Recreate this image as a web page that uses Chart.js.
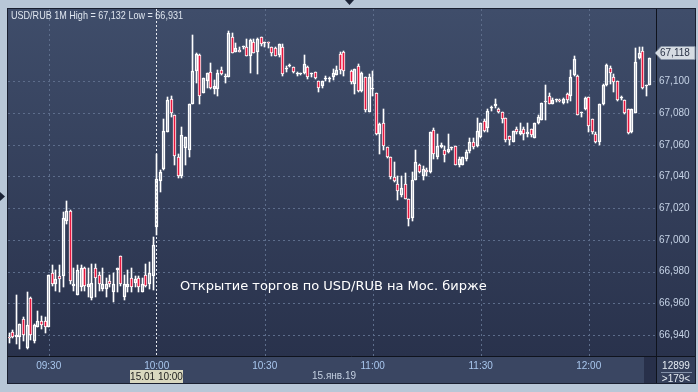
<!DOCTYPE html>
<html lang="ru">
<head>
  <meta charset="utf-8">
  <title>USD/RUB 1M</title>
  <style>
    html, body { margin: 0; padding: 0; background: #b8c7d7; }
    #chart { display: block; }
  </style>
</head>
<body>
  <canvas id="chart" width="698" height="392"></canvas>
  <script src="https://cdn.jsdelivr.net/npm/chart.js"></script>
  <script>
    // 1-minute bars, first one at 09:19, one per minute (null = no trades)
    var firstBar = '09:19';
    var opens = [
      66.939, 66.942, 66.939, 66.939, 66.950, 66.932, 66.963, 66.936, 66.945, 66.949,
      66.949, 66.945, 66.979, 66.972, 66.977, 66.977, 67.012, 67.018, 66.971, 66.965,
      66.970, 66.982, 66.970, 66.963, 66.982, 66.978, 66.969, 66.969, 66.974, 66.967,
      66.981, 66.990, 66.964, 66.970, 66.976, 66.973, 66.976, 66.967, 66.978, 66.972,
      66.9775, 67.008, 67.037, 67.045, 67.068, 67.089, 67.079, 67.052, 67.0405, 67.058,
      67.057, 67.086, 67.1065, 67.1165, 67.093, 67.100, 67.106, 67.095, 67.095, 67.107,
      67.103, 67.103, 67.128, 67.1185, 67.120, 67.122, 67.1215, 67.116, 67.125, 67.1185,
      67.128, 67.1245, 67.1245, 67.122, 67.121, 67.1165, 67.1215, 67.108, 67.110, 67.109,
      67.1045, 67.1045, 67.1055, 67.109, 67.1045, 67.106, 67.100, 67.097, 67.1015, 67.1015,
      67.1025, 67.104, 67.117, 67.1185, null, 67.1065, 67.0985, 67.110, 67.094, 67.103,
      67.081, 67.095, 67.093, 67.0665, 67.074, 67.0585, 67.052, 67.0395, 67.0355, 67.0285,
      67.0355, 67.0255, 67.0135, 67.038, 67.0475, 67.0405, 67.044, 67.043, 67.0695, 67.052,
      67.0585, 67.057, 67.0555, 67.058, 67.0595, 67.0475, 67.0475, 67.051, 67.056, 67.0615,
      67.0595, 67.065, 67.075, 67.0705, 67.083, 67.0845, 67.0825, 67.0805, 67.077, 67.0655,
      67.062, 67.070, 67.067, 67.070, 67.0665, 67.070, 67.064, 67.0735, 67.0755, 67.087,
      67.0905, 67.086, 67.088, 67.0885, 67.0865, 67.092, 67.091, 67.104, 67.1035, 67.080,
      67.0825, 67.090, 67.076, 67.0665, 67.0615, 67.0855, 67.0975, 67.1085, 67.1025, 67.100,
      67.0895, 67.088, 67.0825, 67.068, 67.080, 67.1145, 67.1195, 67.097, 67.098
    ];
    var highs = [
      66.941, 66.943, 66.965, 66.947, 66.951, 66.967, 66.964, 66.947, 66.955, 66.952,
      66.951, 66.978, 66.984, 66.981, 66.984, 67.0175, 67.0245, 67.019, 66.982, 66.984,
      66.984, 66.983, 66.982, 66.985, 66.985, 66.980, 66.982, 66.976, 66.978, 66.979,
      66.982, 66.990, 66.978, 66.981, 66.982, 66.977, 66.977, 66.976, 66.985, 66.986,
      67.002, 67.0545, 67.044, 67.076, 67.090, 67.0905, 67.079, 67.054, 67.071, 67.065,
      67.086, 67.129, 67.118, 67.1175, 67.102, 67.105, 67.1115, 67.101, 67.107, 67.109,
      67.1045, 67.132, 67.1305, 67.1245, 67.1215, 67.1225, 67.127, 67.1265, 67.127, 67.1275,
      67.128, 67.125, 67.125, 67.122, 67.1215, 67.1235, 67.1235, 67.110, 67.111, 67.109,
      67.106, 67.1055, 67.1165, 67.1095, 67.1055, 67.106, 67.1005, 67.1005, 67.1035, 67.1025,
      67.108, 67.1095, 67.1185, 67.1195, null, 67.107, 67.108, 67.111, 67.106, 67.103,
      67.1045, 67.1065, 67.093, 67.074, 67.0825, 67.0585, 67.052, 67.049, 67.0405, 67.0405,
      67.0425, 67.0255, 67.043, 67.057, 67.048, 67.0465, 67.0455, 67.068, 67.0705, 67.067,
      67.061, 67.0595, 67.067, 67.0585, 67.0595, 67.0525, 67.0525, 67.0565, 67.0645, 67.0645,
      67.077, 67.0735, 67.076, 67.0825, 67.0845, 67.089, 67.083, 67.0805, 67.077, 67.0655,
      67.069, 67.071, 67.0735, 67.071, 67.0735, 67.070, 67.0735, 67.0785, 67.0865, 67.098,
      67.0925, 67.0895, 67.089, 67.089, 67.0895, 67.093, 67.107, 67.116, 67.104, 67.081,
      67.090, 67.090, 67.076, 67.068, 67.0855, 67.0985, 67.111, 67.110, 67.1045, 67.100,
      67.091, 67.088, 67.0825, 67.0825, 67.121, 67.1215, 67.122, 67.098, 67.1145
    ];
    var lows = [
      66.935, 66.938, 66.934, 66.931, 66.936, 66.931, 66.937, 66.935, 66.945, 66.944,
      66.941, 66.945, 66.971, 66.968, 66.967, 66.970, 67.010, 66.972, 66.968, 66.965,
      66.968, 66.968, 66.964, 66.962, 66.964, 66.968, 66.968, 66.964, 66.970, 66.961,
      66.967, 66.971, 66.962, 66.967, 66.967, 66.970, 66.967, 66.967, 66.970, 66.969,
      66.9685, 67.003, 67.030, 67.044, 67.068, 67.0775, 67.0475, 67.039, 67.039, 67.0475,
      67.052, 67.086, 67.099, 67.086, 67.0925, 67.096, 67.095, 67.092, 67.091, 67.104,
      67.099, 67.103, 67.118, 67.1185, 67.1185, 67.1205, 67.116, 67.1055, 67.118, 67.1045,
      67.1225, 67.1215, 67.121, 67.116, 67.116, 67.1155, 67.1035, 67.106, 67.109, 67.1055,
      67.1035, 67.104, 67.1045, 67.1015, 67.103, 67.1015, 67.0935, 67.096, 67.100, 67.0995,
      67.101, 67.104, 67.1045, 67.1035, null, 67.0985, 67.092, 67.0935, 67.0935, 67.0805,
      67.0805, 67.091, 67.066, 67.054, 67.0565, 67.0515, 67.0385, 67.0365, 67.025, 67.027,
      67.0255, 67.009, 67.012, 67.0375, 67.042, 67.038, 67.040, 67.0425, 67.051, 67.051,
      67.058, 67.049, 67.055, 67.057, 67.047, 67.046, 67.047, 67.050, 67.055, 67.0575,
      67.0585, 67.064, 67.068, 67.068, 67.0815, 67.083, 67.080, 67.0735, 67.062, 67.060,
      67.0615, 67.067, 67.066, 67.063, 67.065, 67.065, 67.064, 67.073, 67.0755, 67.0755,
      67.0855, 67.0855, 67.087, 67.087, 67.086, 67.0865, 67.0875, 67.1035, 67.0785, 67.0775,
      67.082, 67.068, 67.0665, 67.061, 67.060, 67.085, 67.097, 67.0985, 67.0935, 67.0875,
      67.088, 67.0795, 67.067, 67.0675, 67.080, 67.114, 67.095, 67.091, 67.0975
    ];
    var closes = [
      66.938, 66.939, 66.940, 66.947, 66.940, 66.946, 66.940, 66.946, 66.949, 66.946,
      66.945, 66.978, 66.972, 66.975, 66.975, 67.014, 67.018, 66.974, 66.972, 66.981,
      66.982, 66.971, 66.972, 66.973, 66.976, 66.972, 66.972, 66.972, 66.972, 66.972,
      66.982, 66.972, 66.972, 66.972, 66.970, 66.975, 66.970, 66.972, 66.971, 66.979,
      66.997, 67.0385, 67.043, 67.069, 67.088, 67.080, 67.053, 67.0405, 67.066, 67.065,
      67.086, 67.1065, 67.1175, 67.091, 67.102, 67.105, 67.096, 67.097, 67.105, 67.1045,
      67.1035, 67.1305, 67.118, 67.121, 67.1185, 67.1222, 67.116, 67.126, 67.118, 67.127,
      67.1235, 67.1245, 67.124, 67.118, 67.116, 67.1235, 67.1045, 67.108, 67.110, 67.106,
      67.1045, 67.105, 67.111, 67.1025, 67.1045, 67.102, 67.096, 67.1005, 67.1015, 67.1015,
      67.105, 67.107, 67.107, 67.1065, null, 67.0995, 67.108, 67.094, 67.105, 67.082,
      67.103, 67.095, 67.0665, 67.073, 67.059, 67.052, 67.0395, 67.037, 67.031, 67.033,
      67.026, 67.013, 67.0375, 67.049, 67.043, 67.045, 67.043, 67.068, 67.0545, 67.0595,
      67.060, 67.0535, 67.0575, 67.058, 67.0475, 67.051, 67.052, 67.0555, 67.0615, 67.0585,
      67.069, 67.0735, 67.069, 67.0815, 67.083, 67.086, 67.0805, 67.076, 67.063, 67.063,
      67.0685, 67.068, 67.069, 67.067, 67.068, 67.066, 67.0735, 67.0775, 67.0865, 67.0875,
      67.086, 67.0885, 67.088, 67.0875, 67.089, 67.088, 67.1025, 67.1143, 67.079, 67.0805,
      67.0895, 67.072, 67.068, 67.062, 67.0855, 67.098, 67.1105, 67.1055, 67.0995, 67.088,
      67.0895, 67.080, 67.0675, 67.0825, 67.112, 67.118, 67.096, 67.098, 67.1145
    ];

    var priceTicks = [66.94, 66.96, 66.98, 67.00, 67.02, 67.04, 67.06, 67.08, 67.10];
    var timeTicks = ['09:30', '10:00', '10:30', '11:00', '11:30', '12:00'];
    var sessionOpen = '10:00';
    var lastPrice = 67.118;

    var titleText = 'USD/RUB 1M High = 67,132 Low = 66,931';
    var noteText = 'Открытие торгов по USD/RUB на Мос. бирже';
    var cursorText = '15.01 10:00';
    var dateText = '15.янв.19';
    var volumeText = '12899';
    var barsText = '>179<';

    function toMin(t) {
      var p = t.split(':');
      return parseInt(p[0], 10) * 60 + parseInt(p[1], 10);
    }
    function fmtTime(v) {
      var h = Math.floor(v / 60), m = Math.round(v % 60);
      return (h < 10 ? '0' : '') + h + ':' + (m < 10 ? '0' : '') + m;
    }
    function fmtPrice(v) {
      return v.toFixed(3).replace('.', ',');
    }

    var start = toMin(firstBar);
    var bodies = [], upperWicks = [], lowerWicks = [], bodyColors = [];
    opens.forEach(function (o, i) {
      if (o === null) return;
      var c = closes[i];
      var top = Math.max(o, c), bot = Math.min(o, c);
      bodies.push({ x: start + i, y: [bot, top] });
      upperWicks.push({ x: start + i, y: [top, highs[i]] });
      lowerWicks.push({ x: start + i, y: [lows[i], bot] });
      bodyColors.push(c < o ? '#e8173f' : 'rgba(0,0,0,0)');
    });

    // snap bars on whole pixels so 1px wicks stay sharp
    var snapPlugin = {
      id: 'snap',
      afterDatasetsUpdate: function (chart) {
        chart.data.datasets.forEach(function (ds, di) {
          chart.getDatasetMeta(di).data.forEach(function (el) {
            el.x = Math.floor(el.x) + 0.5;
            el.y = Math.round(el.y);
            el.base = Math.round(el.base);
            if (di === 0 && Math.abs(el.y - el.base) < 1) el.base = el.y + 1;
          });
        });
      }
    };

    var framePlugin = {
      id: 'frame',
      beforeDraw: function (chart) {
        var ctx = chart.ctx, a = chart.chartArea;
        var xs = chart.scales.x, ys = chart.scales.y;
        var right = 695, bottom = 383;
        ctx.save();
        ctx.fillStyle = '#b8c7d7';
        ctx.fillRect(0, 0, chart.width, chart.height);

        var g = ctx.createLinearGradient(0, a.top, 0, a.bottom);
        g.addColorStop(0, '#3f4d6a');
        g.addColorStop(1, '#29324c');
        ctx.fillStyle = g;
        ctx.fillRect(a.left, a.top, right - a.left, a.bottom - a.top);
        ctx.fillStyle = '#3a4662';
        ctx.fillRect(a.left, a.bottom, right - a.left, bottom - a.bottom);
        ctx.fillStyle = '#343f5a';
        ctx.fillRect(a.right, a.bottom, right - a.right, bottom - a.bottom);
        // scroll thumb
        ctx.fillStyle = '#28304a';
        ctx.fillRect(a.right - 12, a.bottom + 1, 12, bottom - a.bottom - 1);

        // dashed grid
        ctx.lineWidth = 1;
        ctx.strokeStyle = '#5d6d8b';
        ctx.setLineDash([2, 3]);
        ctx.beginPath();
        priceTicks.forEach(function (p) {
          var y = Math.round(ys.getPixelForValue(p)) + 0.5;
          ctx.moveTo(a.left, y);
          ctx.lineTo(a.right, y);
        });
        timeTicks.forEach(function (t) {
          if (t === sessionOpen) return;
          var x = Math.round(xs.getPixelForValue(toMin(t))) + 0.5;
          ctx.moveTo(x, a.top);
          ctx.lineTo(x, a.bottom);
        });
        ctx.stroke();

        // session open marker
        var sx = Math.floor(xs.getPixelForValue(toMin(sessionOpen))) + 0.5;
        ctx.strokeStyle = '#e6e9ef';
        ctx.setLineDash([2, 2]);
        ctx.beginPath();
        ctx.moveTo(sx, a.top);
        ctx.lineTo(sx, a.bottom);
        ctx.stroke();

        // dividers and border
        ctx.setLineDash([]);
        ctx.strokeStyle = '#0f131d';
        ctx.beginPath();
        ctx.moveTo(a.right + 0.5, a.top);
        ctx.lineTo(a.right + 0.5, bottom);
        ctx.moveTo(a.left, a.bottom + 0.5);
        ctx.lineTo(right, a.bottom + 0.5);
        ctx.stroke();
        ctx.strokeStyle = '#1a2030';
        ctx.strokeRect(a.left - 0.5, a.top - 0.5, right - a.left + 1, bottom - a.top + 1);
        ctx.restore();
      },
      afterDraw: function (chart) {
        var ctx = chart.ctx, a = chart.chartArea;
        var xs = chart.scales.x, ys = chart.scales.y;
        ctx.save();
        ctx.textBaseline = 'middle';

        ctx.fillStyle = '#dfe6ef';
        ctx.font = '11px "Liberation Sans", Arial, sans-serif';
        ctx.textAlign = 'left';
        ctx.fillText(titleText, a.left + 3, a.top + 7, 172);

        ctx.fillStyle = '#ffffff';
        ctx.font = '13px "DejaVu Sans", sans-serif';
        ctx.fillText(noteText, 180, 287, 310);

        // cursor time badge
        var sx = Math.floor(xs.getPixelForValue(toMin(sessionOpen))) + 0.5;
        ctx.fillStyle = '#d9d8bf';
        ctx.fillRect(Math.round(sx - 27), 370, 53, 13);
        ctx.fillStyle = '#1d1d1d';
        ctx.font = '10px "Liberation Sans", Arial, sans-serif';
        ctx.textAlign = 'center';
        ctx.fillText(cursorText, sx, 377);

        ctx.fillStyle = '#c3cfe0';
        ctx.font = '10px "Liberation Sans", Arial, sans-serif';
        ctx.fillText(dateText, 334, 376);

        // bottom right cell
        ctx.fillStyle = '#e6ecf3';
        ctx.font = '10px "Liberation Sans", Arial, sans-serif';
        ctx.fillText(volumeText, 676, 366);
        ctx.fillText(barsText, 676, 379);
        ctx.strokeStyle = '#8290a8';
        ctx.beginPath();
        ctx.moveTo(661, 372.5);
        ctx.lineTo(692, 372.5);
        ctx.stroke();

        // last price marker
        var py = Math.round(ys.getPixelForValue(lastPrice));
        ctx.fillStyle = '#d6dce3';
        ctx.strokeStyle = '#8793a6';
        ctx.beginPath();
        ctx.moveTo(a.right - 1, py);
        ctx.lineTo(a.right + 5, py - 6.5);
        ctx.lineTo(695, py - 6.5);
        ctx.lineTo(695, py + 6.5);
        ctx.lineTo(a.right + 5, py + 6.5);
        ctx.closePath();
        ctx.fill();
        ctx.stroke();
        ctx.fillStyle = '#2a3347';
        ctx.textAlign = 'left';
        ctx.fillText(fmtPrice(lastPrice), a.right + 4, py + 0.5);

        // frame arrows
        ctx.fillStyle = '#1c2437';
        ctx.beginPath();
        ctx.moveTo(345, 0); ctx.lineTo(354, 0); ctx.lineTo(349.5, 5);
        ctx.closePath(); ctx.fill();
        ctx.beginPath();
        ctx.moveTo(0, 192); ctx.lineTo(0, 201); ctx.lineTo(5, 196.5);
        ctx.closePath(); ctx.fill();
        ctx.restore();
      }
    };

    var ctx = document.getElementById('chart').getContext('2d');
    var chart = new Chart(ctx, {
      type: 'bar',
      data: {
        datasets: [
          {
            data: bodies,
            backgroundColor: bodyColors,
            borderColor: '#ffffff',
            borderWidth: 1,
            borderSkipped: false,
            barThickness: 3,
            minBarLength: 1,
            grouped: false,
            order: 0
          },
          {
            data: upperWicks,
            backgroundColor: '#ffffff',
            borderWidth: 0,
            barThickness: 1,
            grouped: false,
            order: 1
          },
          {
            data: lowerWicks,
            backgroundColor: '#ffffff',
            borderWidth: 0,
            barThickness: 1,
            grouped: false,
            order: 1
          }
        ]
      },
      options: {
        responsive: false,
        animation: false,
        layout: { padding: { left: 8, top: 8, right: 3, bottom: 9 } },
        plugins: {
          legend: { display: false },
          tooltip: { enabled: false }
        },
        scales: {
          x: {
            type: 'linear',
            offset: false,
            min: start - 0.3,
            max: start + 179.7,
            grid: { display: false, drawTicks: false, tickLength: 0 },
            border: { display: false },
            afterBuildTicks: function (scale) {
              scale.ticks = timeTicks.map(function (t) { return { value: toMin(t) }; });
            },
            afterFit: function (scale) { scale.height = 27; },
            ticks: {
              autoSkip: false,
              maxRotation: 0,
              padding: 4,
              color: '#a9c7ee',
              font: { family: 'Liberation Sans', size: 10 },
              callback: function (v) { return fmtTime(v); }
            }
          },
          y: {
            position: 'right',
            min: 66.9267,
            max: 67.1457,
            grid: { display: false, drawTicks: false, tickLength: 0 },
            border: { display: false },
            afterBuildTicks: function (scale) {
              scale.ticks = priceTicks.map(function (p) { return { value: p }; });
            },
            afterFit: function (scale) { scale.width = 39; },
            ticks: {
              padding: 3,
              color: '#c6d3e6',
              font: { family: 'Liberation Sans', size: 10 },
              callback: function (v) { return fmtPrice(v); }
            }
          }
        }
      },
      plugins: [snapPlugin, framePlugin]
    });
  </script>
</body>
</html>
